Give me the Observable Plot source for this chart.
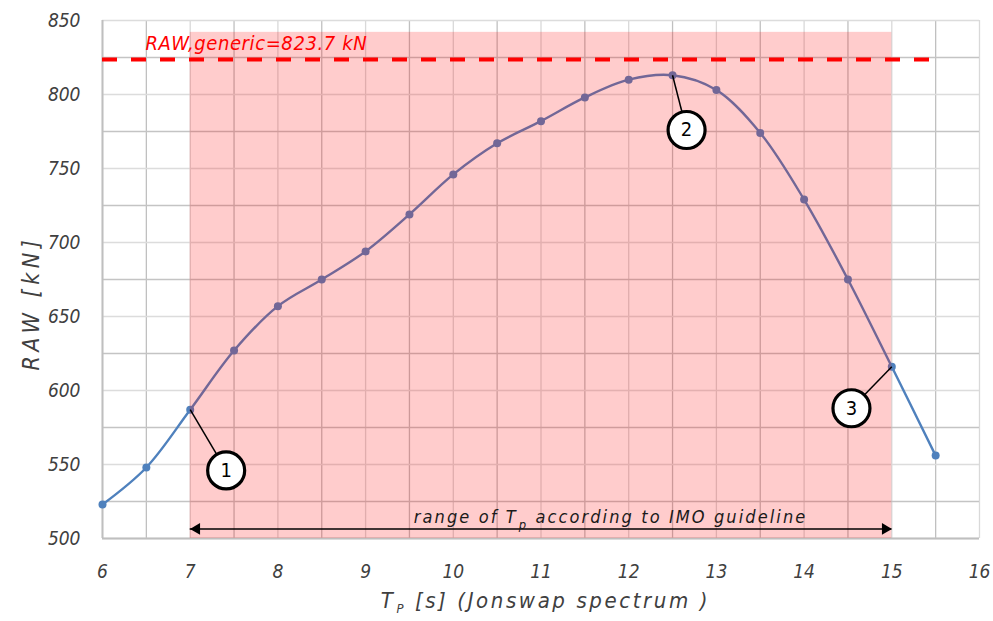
<!DOCTYPE html>
<html>
<head>
<meta charset="utf-8">
<script src="https://cdn.jsdelivr.net/npm/d3@7"></script>
<script src="https://cdn.jsdelivr.net/npm/@observablehq/plot@0.6"></script>
<style>
  body { margin: 0; background: #ffffff; }
  #chart svg { display: block; }
</style>
</head>
<body>
<div id="chart"></div>
<script>
// ---- data ----
const tp  = [6, 6.5, 7, 7.5, 8, 8.5, 9, 9.5, 10, 10.5, 11, 11.5, 12, 12.5, 13, 13.5, 14, 14.5, 15, 15.5];
const raw = [523, 548, 587, 627, 657, 675, 694, 719, 746, 767, 782, 798, 810, 813, 803, 774, 729, 675, 616, 556];
const xTicks = [6, 7, 8, 9, 10, 11, 12, 13, 14, 15, 16];
const yTicks = [500, 550, 600, 650, 700, 750, 800, 850];
const xMinor = [6.5, 7.5, 8.5, 9.5, 10.5, 11.5, 12.5, 13.5, 14.5, 15.5];
const yMinor = [525, 575, 625, 675, 725, 775, 825];
const rawGeneric = 823.7;
const rawGenericLabel = "RAW,generic=823.7 kN";
const imoRange = [7, 15];
const imoLabel = "range of T_p according to IMO guideline";
const calloutNums = ["1", "2", "3"];
const calloutFrom = [[7, 587], [12.5, 813], [15, 616]];
const calloutAt = [[7.41, 546], [12.66, 776], [14.54, 588]];
const xLabel = "T_P [s] (Jonswap spectrum )";
const yLabel = "RAW [kN]";

// ---- tables built from the arrays ----
const series = tp.map((t, i) => ({tp: t, raw: raw[i]}));
const callouts = calloutNums.map((n, i) => ({
  n, x0: calloutFrom[i][0], y0: calloutFrom[i][1], x: calloutAt[i][0], y: calloutAt[i][1]
}));
const FONT = "'DejaVu Sans Condensed', 'DejaVu Sans', sans-serif";
const arrowY = 506.5;
const spacing = new Map([[rawGenericLabel, 0.6], [imoLabel, 2.1], [xLabel, 2.6], [yLabel, 4.5]]);

const chart = Plot.plot({
  width: 993,
  height: 621,
  marginLeft: 102,
  marginRight: 14,
  marginTop: 20,
  marginBottom: 83,
  x: {domain: [6, 16]},
  y: {domain: [500, 850]},
  style: {fontFamily: FONT, fontStyle: "italic", fontSize: "19px", color: "#404040", background: "#ffffff"},
  marks: [
    // grid
    Plot.ruleX(xTicks, {stroke: "#d9d9d9", strokeWidth: 1.3}),
    Plot.ruleX(xMinor, {stroke: "#c0c0c0", strokeWidth: 1.3}),
    Plot.ruleY(yTicks, {stroke: "#dcdcdc", strokeWidth: 1.3}),
    Plot.ruleY(yMinor, {stroke: "#c4c4c4", strokeWidth: 1.3}),
    Plot.ruleX([6], {stroke: "#bfbfbf", strokeWidth: 2}),
    Plot.ruleY([500], {stroke: "#bfbfbf", strokeWidth: 2}),
    // axes
    Plot.axisX({ticks: xTicks, tickSize: 0, tickPadding: 26, label: null, fill: "#404040", fontSize: 19}),
    Plot.axisY({ticks: yTicks, tickSize: 0, tickPadding: 22, label: null, fill: "#404040", fontSize: 19}),
    // series
    Plot.line(series, {x: "tp", y: "raw", curve: "catmull-rom", stroke: "#4f81bd", strokeWidth: 2.4}),
    Plot.dot(series, {x: "tp", y: "raw", r: 4, fill: "#4f81bd"}),
    // IMO range shading
    Plot.rect([{x1: imoRange[0], x2: imoRange[1]}], {x1: "x1", x2: "x2", y1: 500, y2: 842, fill: "#ff0000", fillOpacity: 0.2}),
    // generic RAW line and label
    Plot.ruleY([rawGeneric], {x1: 6, x2: 15.5, stroke: "#ff0000", strokeWidth: 4, strokeDasharray: "15,14"}),
    Plot.text([rawGenericLabel], {x: 6.49, y: 834.7, text: d => d, textAnchor: "start", fill: "#ff0000", fontSize: 20}),
    // range arrow
    Plot.ruleY([arrowY], {x1: imoRange[0], x2: imoRange[1], stroke: "#000000", strokeWidth: 1.5}),
    Plot.dot([imoRange[1]], {x: d => d, y: arrowY, symbol: "triangle", r: 4.3, rotate: 90, fill: "#000000", stroke: null, dx: -6.5}),
    Plot.dot([imoRange[0]], {x: d => d, y: arrowY, symbol: "triangle", r: 4.3, rotate: -90, fill: "#000000", stroke: null, dx: 6.5}),
    Plot.text([imoLabel], {x: 9.55, y: 514.2, text: d => d, textAnchor: "start", fill: "#1a1a1a", fontSize: 18}),
    // callouts
    Plot.link(callouts, {x1: "x0", y1: "y0", x2: "x", y2: "y", stroke: "#000000", strokeWidth: 1.5}),
    Plot.dot(callouts, {x: "x", y: "y", r: 18.5, fill: "#ffffff", stroke: "#000000", strokeWidth: 3.2}),
    Plot.text(callouts, {x: "x", y: "y", text: "n", fontSize: 20, fontStyle: "normal", fill: "#000000"}),
    // axis titles
    Plot.text([xLabel], {x: 11.05, frameAnchor: "bottom", lineAnchor: "middle", textAnchor: "middle", dy: 62, text: d => d, fontSize: 22, fill: "#404040"}),
    Plot.text([yLabel], {y: 659, frameAnchor: "left", textAnchor: "middle", lineAnchor: "middle", dx: -71, rotate: -90, text: d => d, fontSize: 23, fill: "#404040"})
  ]
});

// letter spacing and subscripts for T_p / T_P
d3.select(chart).selectAll("text").each(function () {
  const t = this.textContent;
  if (spacing.has(t)) this.setAttribute("letter-spacing", spacing.get(t));
  const m = t.match(/^(.*?)_(\w)(.*)$/);
  if (!m || this.querySelector("tspan")) return;
  const fs = parseFloat(this.getAttribute("font-size")) || 19;
  const el = d3.select(this);
  el.text(null);
  el.append("tspan").text(m[1]);
  el.append("tspan").attr("font-size", (fs * 0.68) + "px").attr("dy", (fs * 0.3) + "px").attr("dx", "1").text(m[2]);
  el.append("tspan").attr("dy", (-fs * 0.3) + "px").text(m[3]);
});

document.getElementById("chart").appendChild(chart);
</script>
</body>
</html>
